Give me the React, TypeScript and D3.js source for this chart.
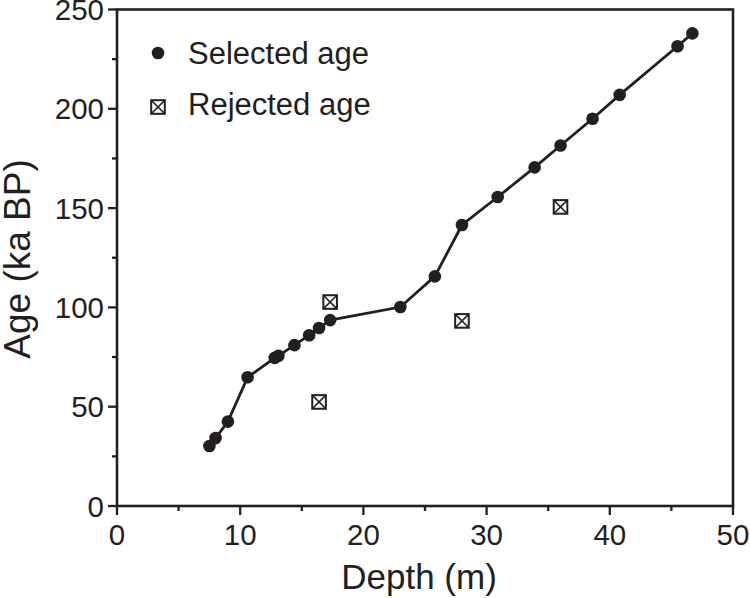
import * as d3 from 'd3';
import React, { useEffect, useRef } from 'react';

// selected ages (depth m, age ka BP)
const selectedDepth = [7.5, 8.0, 9.0, 10.6, 12.8, 13.1, 14.4, 15.6, 16.4, 17.3, 23.0, 25.8, 28.0, 30.9, 33.9, 36.0, 38.6, 40.8, 45.5, 46.7];
const selectedAge = [30.2, 34.2, 42.5, 64.8, 74.6, 75.6, 81.0, 86.0, 89.6, 93.6, 100.2, 115.6, 141.5, 155.6, 170.5, 181.5, 195.0, 207.0, 231.5, 238.0];

// rejected ages
const rejectedDepth = [16.4, 17.3, 28.0, 36.0];
const rejectedAge = [52.4, 102.7, 93.2, 150.6];

const xTicks = [0, 10, 20, 30, 40, 50];
const yTicks = [0, 50, 100, 150, 200, 250];

const INK = '#231f20';
const FONT = '"Liberation Sans", Arial, sans-serif';

const App: React.FC = () => {
  const svgRef = useRef<SVGSVGElement>(null);

  useEffect(() => {
    const svg = d3.select(svgRef.current).html('');
    const left = 117, right = 733, top = 9.5, bottom = 506;

    const x = d3.scaleLinear().domain([0, 50]).range([left, right]);
    const y = d3.scaleLinear().domain([0, 250]).range([bottom, top]);

    const g = svg.append('g');

    // frame
    g.append('rect')
      .attr('x', left).attr('y', top)
      .attr('width', right - left).attr('height', bottom - top)
      .attr('fill', 'none').attr('stroke', INK).attr('stroke-width', 2.6);

    // x axis ticks
    const xMinor = d3.range(5, 50, 10);
    g.selectAll('.xt').data(xTicks).enter().append('line')
      .attr('x1', d => x(d)).attr('x2', d => x(d))
      .attr('y1', bottom).attr('y2', bottom + 9)
      .attr('stroke', INK).attr('stroke-width', 2.3);
    g.selectAll('.xm').data(xMinor).enter().append('line')
      .attr('x1', d => x(d)).attr('x2', d => x(d))
      .attr('y1', bottom).attr('y2', bottom + 5)
      .attr('stroke', INK).attr('stroke-width', 2.3);
    g.selectAll('.xl').data(xTicks).enter().append('text')
      .attr('x', d => x(d)).attr('y', bottom + 39)
      .attr('text-anchor', 'middle')
      .attr('font-family', FONT).attr('font-size', 29.5).attr('fill', INK)
      .text(d => d);

    // y axis ticks
    const yMinor = d3.range(25, 250, 50);
    g.selectAll('.yt').data(yTicks).enter().append('line')
      .attr('x1', left - 9).attr('x2', left)
      .attr('y1', d => y(d)).attr('y2', d => y(d))
      .attr('stroke', INK).attr('stroke-width', 2.3);
    g.selectAll('.ym').data(yMinor).enter().append('line')
      .attr('x1', left - 5).attr('x2', left)
      .attr('y1', d => y(d)).attr('y2', d => y(d))
      .attr('stroke', INK).attr('stroke-width', 2.3);
    g.selectAll('.yl').data(yTicks).enter().append('text')
      .attr('x', left - 13).attr('y', d => y(d) + 10.5)
      .attr('text-anchor', 'end')
      .attr('font-family', FONT).attr('font-size', 29.5).attr('fill', INK)
      .text(d => d);

    // axis titles
    g.append('text')
      .attr('x', 419).attr('y', 589)
      .attr('text-anchor', 'middle')
      .attr('font-family', FONT).attr('font-size', 35).attr('fill', INK)
      .text('Depth (m)');
    g.append('text')
      .attr('transform', 'translate(30,259) rotate(-90)')
      .attr('text-anchor', 'middle')
      .attr('font-family', FONT).attr('font-size', 37).attr('fill', INK)
      .text('Age (ka BP)');

    // selected line + dots
    const sel = selectedDepth.map((d, i) => [d, selectedAge[i]] as [number, number]);
    const line = d3.line<[number, number]>().x(d => x(d[0])).y(d => y(d[1]));
    g.append('path').datum(sel)
      .attr('d', line)
      .attr('fill', 'none').attr('stroke', INK).attr('stroke-width', 2.8);
    g.selectAll('.dot').data(sel).enter().append('circle')
      .attr('cx', d => x(d[0])).attr('cy', d => y(d[1]))
      .attr('r', 6.3).attr('fill', INK);

    // rejected markers
    const rej = rejectedDepth.map((d, i) => [d, rejectedAge[i]] as [number, number]);
    const drawBox = (cx: number, cy: number) => {
      const s = 6.8;
      const b = g.append('g').attr('transform', `translate(${cx},${cy})`);
      b.append('rect').attr('x', -s).attr('y', -s).attr('width', 2 * s).attr('height', 2 * s)
        .attr('fill', 'white').attr('stroke', INK).attr('stroke-width', 2);
      b.append('path').attr('d', `M${-s},${-s}L${s},${s}M${s},${-s}L${-s},${s}`)
        .attr('stroke', INK).attr('stroke-width', 1.6);
    };
    rej.forEach(d => drawBox(x(d[0]), y(d[1])));

    // legend
    g.append('circle').attr('cx', 158).attr('cy', 53).attr('r', 6.3).attr('fill', INK);
    g.append('text').attr('x', 188).attr('y', 63.5)
      .attr('font-family', FONT).attr('font-size', 31).attr('fill', INK)
      .text('Selected age');
    drawBox(158, 107);
    g.append('text').attr('x', 188).attr('y', 115)
      .attr('font-family', FONT).attr('font-size', 31).attr('fill', INK)
      .text('Rejected age');
  }, []);

  return (
    <svg ref={svgRef} width={750} height={598}
      style={{ position: 'absolute', left: 0, top: 0, background: 'white' }} />
  );
};

export default App;
